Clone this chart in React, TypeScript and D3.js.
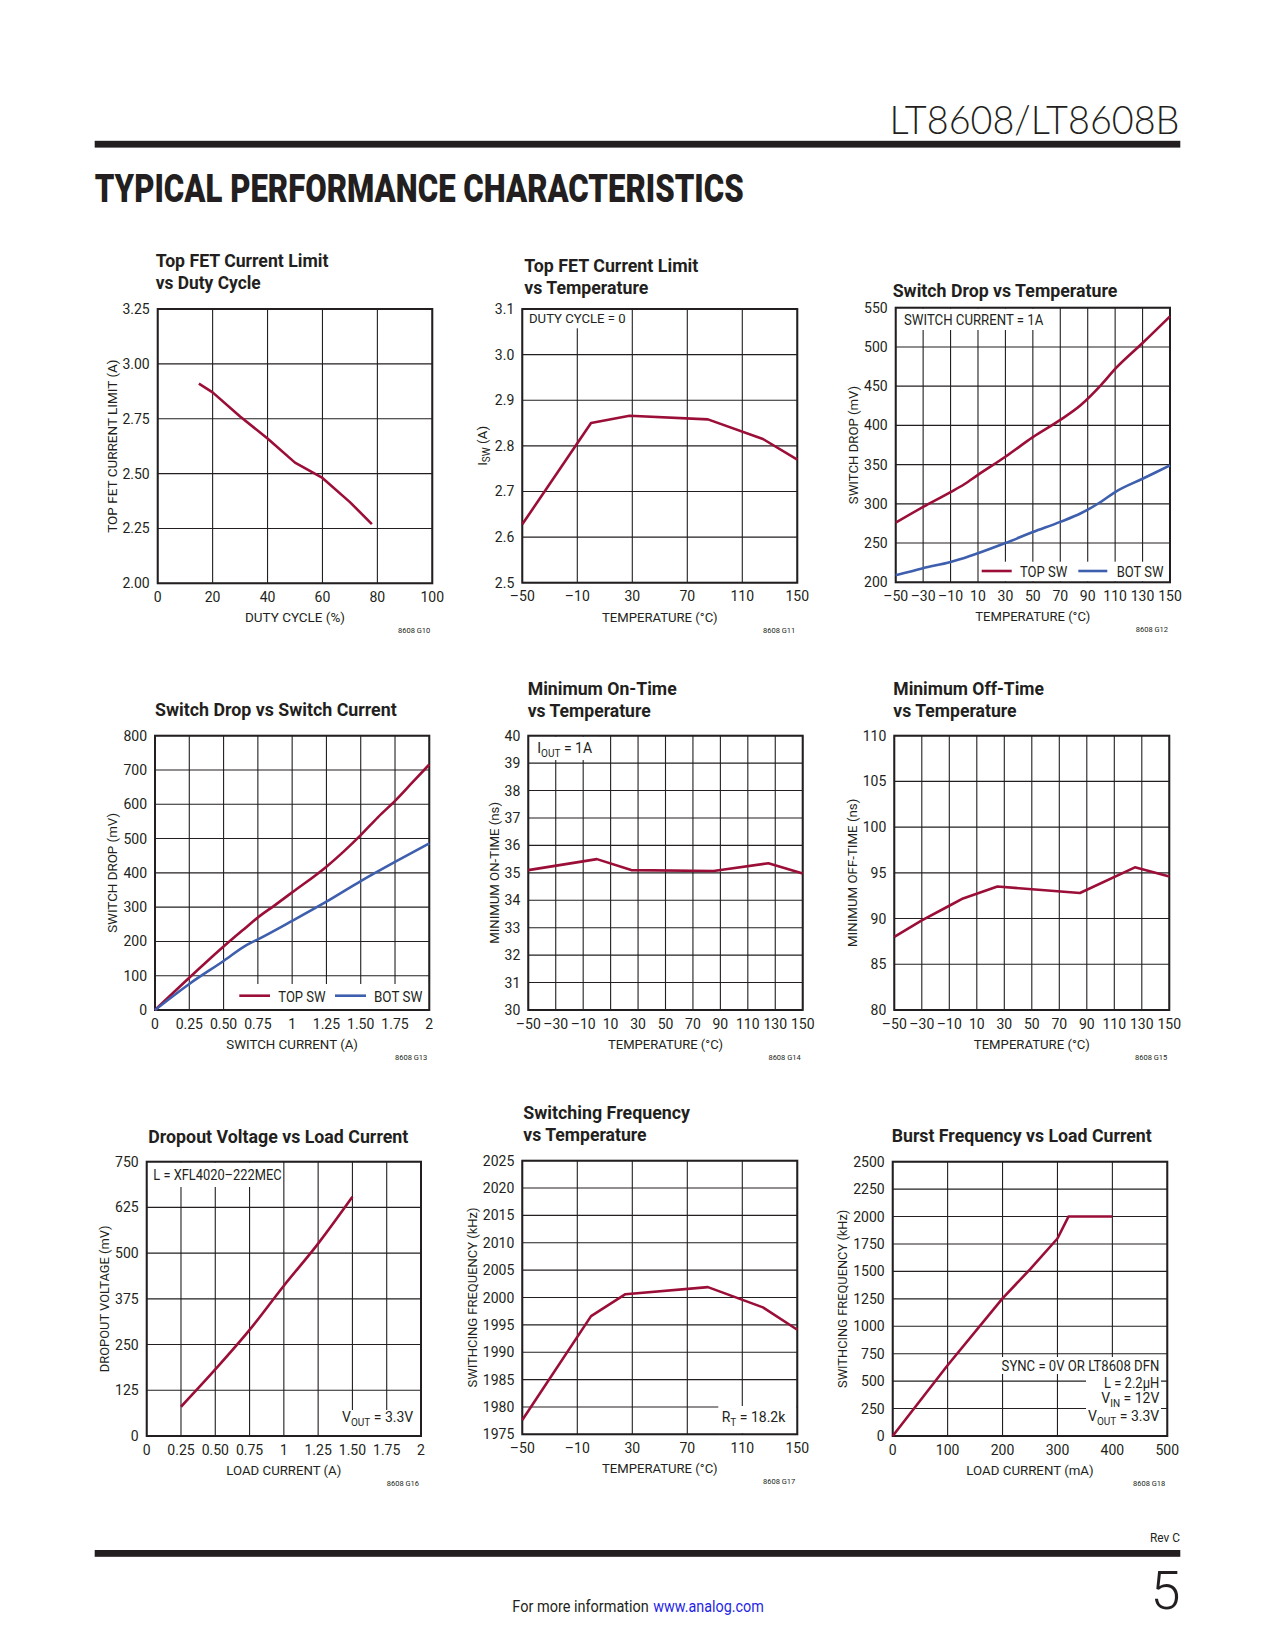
import React from "react";
import * as d3 from "d3";

const INK = "#231f20";
const RED = "#9b0e38";
const BLUE = "#3e5fae";
const FONT = "Roboto, 'Liberation Sans', Arial, sans-serif";

// ---------- DATA ----------
// G10 Top FET current limit vs duty cycle
const dutyCycle = [15, 20, 30, 40, 50, 60, 70, 78];
const topFetLimitDuty = [2.91, 2.87, 2.76, 2.66, 2.55, 2.48, 2.37, 2.27];

// G11 Top FET current limit vs temperature
const tempG11 = [-50, 0, 28, 85, 125, 150];
const iswG11 = [2.628, 2.85, 2.866, 2.858, 2.815, 2.77];

// G12 Switch drop vs temperature
const tempG12 = [-50, -30, -10, 0, 10, 30, 50, 70, 85, 100, 110, 130, 150];
const topSwDropT = [276, 296, 315, 325, 337, 360, 385, 407, 426, 452, 472, 505, 539];
const botSwDropT = [209, 218, 226, 231, 237, 250, 264, 277, 288, 303, 315, 332, 349];

// G13 Switch drop vs switch current
const currentTopG13 = [0, 0.25, 0.5, 0.67, 0.75, 0.875, 1, 1.25, 1.375, 1.5, 1.625, 1.75, 1.875, 2];
const topSwDropI = [0, 94, 185, 243, 270, 306, 343, 418, 462, 510, 562, 610, 663, 716];
const currentBotG13 = [0, 0.25, 0.5, 0.67, 0.75, 1, 1.25, 1.5, 1.75, 2];
const botSwDropI = [0, 76, 143, 190, 206, 260, 316, 376, 432, 486];

// G14 Minimum on-time vs temperature
const tempG14 = [-50, 0, 25, 85, 125, 150];
const minOnTime = [35.1, 35.5, 35.1, 35.07, 35.35, 34.98];

// G15 Minimum off-time vs temperature
const tempG15 = [-50, -30, -10, 0, 25, 85, 125, 150];
const minOffTime = [88, 89.8, 91.4, 92.2, 93.5, 92.8, 95.6, 94.6];

// G16 Dropout voltage vs load current
const loadCurrentG16 = [0.25, 0.5, 0.75, 1, 1.25, 1.5];
const dropoutVoltage = [80, 182, 290, 411, 526, 654];

// G17 Switching frequency vs temperature
const tempG17 = [-50, 0, 25, 85, 125, 150];
const switchingFreq = [1977.6, 1996.6, 2000.6, 2001.9, 1998.2, 1994.1];

// G18 Burst frequency vs load current
const loadCurrentG18 = [0, 100, 200, 250, 300, 320, 400];
const burstFreq = [0, 645, 1255, 1519, 1800, 2000, 2000];

// ---------- TICKS ----------
const ticksDuty = [0, 20, 40, 60, 80, 100];
const ticksLimitDuty = [2, 2.25, 2.5, 2.75, 3, 3.25];
const ticksTempCoarse = [-50, -10, 30, 70, 110, 150];
const ticksTempFine = [-50, -30, -10, 10, 30, 50, 70, 90, 110, 130, 150];
const ticksIsw = [2.5, 2.6, 2.7, 2.8, 2.9, 3.0, 3.1];
const ticksDropT = [200, 250, 300, 350, 400, 450, 500, 550];
const ticksAmps = [0, 0.25, 0.5, 0.75, 1, 1.25, 1.5, 1.75, 2];
const labelsAmps = ["0", "0.25", "0.50", "0.75", "1", "1.25", "1.50", "1.75", "2"];
const ticksDropI = [0, 100, 200, 300, 400, 500, 600, 700, 800];
const ticksOnTime = [30, 31, 32, 33, 34, 35, 36, 37, 38, 39, 40];
const ticksOffTime = [80, 85, 90, 95, 100, 105, 110];
const ticksDropout = [0, 125, 250, 375, 500, 625, 750];
const ticksFreq = [1975, 1980, 1985, 1990, 1995, 2000, 2005, 2010, 2015, 2020, 2025];
const ticksLoadmA = [0, 100, 200, 300, 400, 500];
const ticksBurst = [0, 250, 500, 750, 1000, 1250, 1500, 1750, 2000, 2250, 2500];

const fmtTemp = (v: number) => (v < 0 ? "\u2013" + Math.abs(v) : String(v));

type Series = { xs: number[]; ys: number[]; color: string; smooth?: boolean };
type Mask = [number, number, number, number];

type ChartProps = {
  box: [number, number, number, number];
  xDomain: [number, number];
  yDomain: [number, number];
  xTicks: number[];
  xLabels: string[];
  yTicks: number[];
  yLabels: string[];
  series: Series[];
  titleLines: string[];
  titleX: number;
  titleY: number[];
  titleW: number[];
  xTitle: string;
  xTitleW: number;
  yTitle: React.ReactNode;
  yTitleX: number;
  yTitleW?: number;
  figId: string;
  masks?: Mask[];
  children?: React.ReactNode;
};

function Chart(p: ChartProps) {
  const [l, t, r, b] = p.box;
  const x = d3.scaleLinear().domain(p.xDomain).range([l, r]);
  const y = d3.scaleLinear().domain(p.yDomain).range([b, t]);
  const cy = (t + b) / 2;
  return (
    <g>
      {p.titleLines.map((s, i) => (
        <text
          key={"t" + i}
          x={p.titleX}
          y={p.titleY[i]}
          fontSize={18.5}
          fontWeight={700}
          fill={INK}
          textLength={p.titleW[i]}
          lengthAdjust="spacingAndGlyphs"
        >
          {s}
        </text>
      ))}
      {p.xTicks.map((v, i) => (
        <line key={"gx" + i} x1={x(v)} x2={x(v)} y1={t} y2={b} stroke={INK} strokeWidth={1.1} />
      ))}
      {p.yTicks.map((v, i) => (
        <line key={"gy" + i} x1={l} x2={r} y1={y(v)} y2={y(v)} stroke={INK} strokeWidth={1.1} />
      ))}
      {(p.masks || []).map((m, i) => (
        <rect key={"m" + i} x={m[0]} y={m[1]} width={m[2] - m[0]} height={m[3] - m[1]} fill="#fff" />
      ))}
      <rect x={l} y={t} width={r - l} height={b - t} fill="none" stroke={INK} strokeWidth={2} />
      {p.series.map((s, i) => {
        const pts = s.xs.map((v, k) => [v, s.ys[k]] as [number, number]);
        const line = d3
          .line<[number, number]>()
          .x((d) => x(d[0]))
          .y((d) => y(d[1]))
          .curve(s.smooth ? d3.curveMonotoneX : d3.curveLinear);
        return (
          <path
            key={"s" + i}
            d={line(pts) || ""}
            fill="none"
            stroke={s.color}
            strokeWidth={2.6}
            strokeLinejoin="round"
          />
        );
      })}
      {p.xTicks.map((v, i) => (
        <text key={"lx" + i} x={x(v)} y={b + 18.5} fontSize={14} textAnchor="middle" fill={INK}>
          {p.xLabels[i]}
        </text>
      ))}
      {p.yTicks.map((v, i) => (
        <text key={"ly" + i} x={l - 8} y={y(v) + 5} fontSize={14} textAnchor="end" fill={INK}>
          {p.yLabels[i]}
        </text>
      ))}
      <text
        x={(l + r) / 2}
        y={b + 39}
        fontSize={13.5}
        textAnchor="middle"
        fill={INK}
        textLength={p.xTitleW}
        lengthAdjust="spacingAndGlyphs"
      >
        {p.xTitle}
      </text>
      <text
        transform={`translate(${p.yTitleX},${cy}) rotate(-90)`}
        fontSize={13.5}
        textAnchor="middle"
        dy="0.36em"
        fill={INK}
        textLength={p.yTitleW}
        lengthAdjust={p.yTitleW ? "spacingAndGlyphs" : undefined}
      >
        {p.yTitle}
      </text>
      <text x={r - 2} y={b + 50} fontSize={7.5} textAnchor="end" fill={INK}>
        {p.figId}
      </text>
      {p.children}
    </g>
  );
}

const Sub = ({ children }: { children: React.ReactNode }) => (
  <tspan fontSize={10} dy={3.5}>
    {children}
  </tspan>
);

export default function App() {
  return (
    <svg
      width={1275}
      height={1650}
      viewBox="0 0 1275 1650"
      style={{ position: "absolute", left: 0, top: 0, background: "#fff" }}
      fontFamily={FONT}
    >
      <rect x={0} y={0} width={1275} height={1650} fill="#fff" />
      {/* Header */}
      <text
        x={889.5}
        y={134.3}
        fontSize={40}
        fontWeight={300}
        fill={INK}
        fontFamily="Lato, 'Open Sans', sans-serif"
        textLength={290}
        lengthAdjust="spacingAndGlyphs"
      >
        LT8608/LT8608B
      </text>
      <rect x={94.7} y={140.8} width={1085.6} height={6.8} fill={INK} />
      <text
        x={94.7}
        y={202}
        fontSize={38}
        fontWeight={900}
        fill={INK}
        textLength={649}
        lengthAdjust="spacingAndGlyphs"
      >
        TYPICAL PERFORMANCE CHARACTERISTICS
      </text>

      {/* G10 */}
      <Chart
        box={[157.7, 309, 432.3, 583.3]}
        xDomain={[0, 100]}
        yDomain={[2, 3.25]}
        xTicks={ticksDuty}
        xLabels={ticksDuty.map(String)}
        yTicks={ticksLimitDuty}
        yLabels={ticksLimitDuty.map((v) => v.toFixed(2))}
        series={[{ xs: dutyCycle, ys: topFetLimitDuty, color: RED }]}
        titleLines={["Top FET Current Limit", "vs Duty Cycle"]}
        titleX={155.7}
        titleY={[266.7, 288.5]}
        titleW={[172.7, 105]}
        xTitle="DUTY CYCLE (%)"
        xTitleW={100}
        yTitle="TOP FET CURRENT LIMIT (A)"
        yTitleX={112.3}
        yTitleW={173.3}
        figId="8608 G10"
      />

      {/* G11 */}
      <Chart
        box={[522.3, 309, 797.3, 582.7]}
        xDomain={[-50, 150]}
        yDomain={[2.5, 3.1]}
        xTicks={ticksTempCoarse}
        xLabels={ticksTempCoarse.map(fmtTemp)}
        yTicks={ticksIsw}
        yLabels={ticksIsw.map((v) => v.toFixed(1))}
        series={[{ xs: tempG11, ys: iswG11, color: RED }]}
        titleLines={["Top FET Current Limit", "vs Temperature"]}
        titleX={524.3}
        titleY={[271.7, 293.5]}
        titleW={[174, 124]}
        xTitle={"TEMPERATURE (\u00B0C)"}
        xTitleW={115.7}
        yTitle={
          <>
            I<Sub>SW</Sub>
            <tspan dy={-3.5}> (A)</tspan>
          </>
        }
        yTitleX={481.7}
        figId="8608 G11"
        masks={[[523.3, 310, 628, 328.3]]}
      >
        <text x={529} y={323.3} fontSize={13.5} fill={INK} textLength={96.7} lengthAdjust="spacingAndGlyphs">
          DUTY CYCLE = 0
        </text>
      </Chart>

      {/* G12 */}
      <Chart
        box={[895.7, 307.7, 1170, 582.3]}
        xDomain={[-50, 150]}
        yDomain={[200, 550]}
        xTicks={ticksTempFine}
        xLabels={ticksTempFine.map(fmtTemp)}
        yTicks={ticksDropT}
        yLabels={ticksDropT.map(String)}
        series={[
          { xs: tempG12, ys: topSwDropT, color: RED, smooth: true },
          { xs: tempG12, ys: botSwDropT, color: BLUE, smooth: true },
        ]}
        titleLines={["Switch Drop vs Temperature"]}
        titleX={892.7}
        titleY={[296.7]}
        titleW={[224.7]}
        xTitle={"TEMPERATURE (\u00B0C)"}
        xTitleW={115}
        yTitle="SWITCH DROP (mV)"
        yTitleX={853.3}
        yTitleW={118.3}
        figId="8608 G12"
        masks={[
          [896.7, 308.7, 1050, 330],
          [979, 561.7, 1169, 581.3],
        ]}
      >
        <text x={904} y={325} fontSize={14} fill={INK} textLength={139.3} lengthAdjust="spacingAndGlyphs">
          SWITCH CURRENT = 1A
        </text>
        <line x1={981.7} x2={1011.7} y1={571} y2={571} stroke={RED} strokeWidth={2.6} />
        <text x={1020} y={577} fontSize={14} fill={INK} textLength={47.3} lengthAdjust="spacingAndGlyphs">
          TOP SW
        </text>
        <line x1={1078.3} x2={1107.3} y1={571} y2={571} stroke={BLUE} strokeWidth={2.6} />
        <text x={1116.7} y={577} fontSize={14} fill={INK} textLength={46.7} lengthAdjust="spacingAndGlyphs">
          BOT SW
        </text>
      </Chart>

      {/* G13 */}
      <Chart
        box={[155, 735.7, 429.3, 1010]}
        xDomain={[0, 2]}
        yDomain={[0, 800]}
        xTicks={ticksAmps}
        xLabels={labelsAmps}
        yTicks={ticksDropI}
        yLabels={ticksDropI.map(String)}
        series={[
          { xs: currentTopG13, ys: topSwDropI, color: RED, smooth: true },
          { xs: currentBotG13, ys: botSwDropI, color: BLUE, smooth: true },
        ]}
        titleLines={["Switch Drop vs Switch Current"]}
        titleX={155}
        titleY={[716]}
        titleW={[241.7]}
        xTitle="SWITCH CURRENT (A)"
        xTitleW={131.7}
        yTitle="SWITCH DROP (mV)"
        yTitleX={112.5}
        yTitleW={120}
        figId="8608 G13"
        masks={[[233, 984, 428.3, 1009]]}
      >
        <line x1={239.3} x2={270} y1={995.7} y2={995.7} stroke={RED} strokeWidth={2.6} />
        <text x={278.3} y={1002} fontSize={14} fill={INK} textLength={47.3} lengthAdjust="spacingAndGlyphs">
          TOP SW
        </text>
        <line x1={335} x2={366} y1={995.7} y2={995.7} stroke={BLUE} strokeWidth={2.6} />
        <text x={374} y={1002} fontSize={14} fill={INK} textLength={48.3} lengthAdjust="spacingAndGlyphs">
          BOT SW
        </text>
      </Chart>

      {/* G14 */}
      <Chart
        box={[528.3, 735.7, 802.7, 1010]}
        xDomain={[-50, 150]}
        yDomain={[30, 40]}
        xTicks={ticksTempFine}
        xLabels={ticksTempFine.map(fmtTemp)}
        yTicks={ticksOnTime}
        yLabels={ticksOnTime.map(String)}
        series={[{ xs: tempG14, ys: minOnTime, color: RED }]}
        titleLines={["Minimum On-Time", "vs Temperature"]}
        titleX={527.7}
        titleY={[695, 717.3]}
        titleW={[149, 123]}
        xTitle={"TEMPERATURE (\u00B0C)"}
        xTitleW={115}
        yTitle="MINIMUM ON-TIME (ns)"
        yTitleX={494}
        yTitleW={141.7}
        figId="8608 G14"
        masks={[[529.3, 736.7, 598, 760]]}
      >
        <text x={537.3} y={753.3} fontSize={14} fill={INK}>
          I<Sub>OUT</Sub>
          <tspan dy={-3.5}> = 1A</tspan>
        </text>
      </Chart>

      {/* G15 */}
      <Chart
        box={[894.3, 735.7, 1169.3, 1010]}
        xDomain={[-50, 150]}
        yDomain={[80, 110]}
        xTicks={ticksTempFine}
        xLabels={ticksTempFine.map(fmtTemp)}
        yTicks={ticksOffTime}
        yLabels={ticksOffTime.map(String)}
        series={[{ xs: tempG15, ys: minOffTime, color: RED }]}
        titleLines={["Minimum Off-Time", "vs Temperature"]}
        titleX={893.3}
        titleY={[695, 717.3]}
        titleW={[150.7, 123.3]}
        xTitle={"TEMPERATURE (\u00B0C)"}
        xTitleW={116}
        yTitle="MINIMUM OFF-TIME (ns)"
        yTitleX={852.5}
        yTitleW={148.3}
        figId="8608 G15"
      />

      {/* G16 */}
      <Chart
        box={[146.7, 1161.7, 421, 1436]}
        xDomain={[0, 2]}
        yDomain={[0, 750]}
        xTicks={ticksAmps}
        xLabels={labelsAmps}
        yTicks={ticksDropout}
        yLabels={ticksDropout.map(String)}
        series={[{ xs: loadCurrentG16, ys: dropoutVoltage, color: RED, smooth: true }]}
        titleLines={["Dropout Voltage vs Load Current"]}
        titleX={148.3}
        titleY={[1142.7]}
        titleW={[260]}
        xTitle="LOAD CURRENT (A)"
        xTitleW={115}
        yTitle="DROPOUT VOLTAGE (mV)"
        yTitleX={104}
        yTitleW={146.7}
        figId="8608 G16"
        masks={[
          [147.7, 1162.7, 283, 1187],
          [340, 1410, 420, 1435],
        ]}
      >
        <text x={153.3} y={1180} fontSize={14} fill={INK} textLength={128.3} lengthAdjust="spacingAndGlyphs">
          {"L = XFL4020\u2013222MEC"}
        </text>
        <text x={413.3} y={1422} fontSize={14} fill={INK} textAnchor="end">
          V<Sub>OUT</Sub>
          <tspan dy={-3.5}> = 3.3V</tspan>
        </text>
      </Chart>

      {/* G17 */}
      <Chart
        box={[522.3, 1160.7, 797.3, 1434.3]}
        xDomain={[-50, 150]}
        yDomain={[1975, 2025]}
        xTicks={ticksTempCoarse}
        xLabels={ticksTempCoarse.map(fmtTemp)}
        yTicks={ticksFreq}
        yLabels={ticksFreq.map(String)}
        series={[{ xs: tempG17, ys: switchingFreq, color: RED }]}
        titleLines={["Switching Frequency", "vs Temperature"]}
        titleX={523.3}
        titleY={[1119.3, 1140.7]}
        titleW={[166.7, 123.3]}
        xTitle={"TEMPERATURE (\u00B0C)"}
        xTitleW={115.7}
        yTitle="SWITHCING FREQUENCY (kHz)"
        yTitleX={472.5}
        yTitleW={180}
        figId="8608 G17"
        masks={[[718.3, 1406, 796.3, 1433.3]]}
      >
        <text x={721.7} y={1422} fontSize={14} fill={INK}>
          R<Sub>T</Sub>
          <tspan dy={-3.5}> = 18.2k</tspan>
        </text>
      </Chart>

      {/* G18 */}
      <Chart
        box={[892.7, 1161.7, 1167.3, 1436]}
        xDomain={[0, 500]}
        yDomain={[0, 2500]}
        xTicks={ticksLoadmA}
        xLabels={ticksLoadmA.map(String)}
        yTicks={ticksBurst}
        yLabels={ticksBurst.map(String)}
        series={[{ xs: loadCurrentG18, ys: burstFreq, color: RED }]}
        titleLines={["Burst Frequency vs Load Current"]}
        titleX={891.7}
        titleY={[1142]}
        titleW={[260]}
        xTitle="LOAD CURRENT (mA)"
        xTitleW={127.3}
        yTitle="SWITHCING FREQUENCY (kHz)"
        yTitleX={842.5}
        yTitleW={178.3}
        figId="8608 G18"
        masks={[
          [999, 1357, 1161, 1374],
          [1086, 1374, 1161, 1435],
        ]}
      >
        <text x={1159.3} y={1370.7} fontSize={14} fill={INK} textAnchor="end" textLength={157.7} lengthAdjust="spacingAndGlyphs">
          SYNC = 0V OR LT8608 DFN
        </text>
        <text x={1159.3} y={1387.7} fontSize={14} fill={INK} textAnchor="end" textLength={55.3} lengthAdjust="spacingAndGlyphs">
          {"L = 2.2\u00B5H"}
        </text>
        <text x={1159.3} y={1403} fontSize={14} fill={INK} textAnchor="end">
          V<Sub>IN</Sub>
          <tspan dy={-3.5}> = 12V</tspan>
        </text>
        <text x={1159.3} y={1421.3} fontSize={14} fill={INK} textAnchor="end">
          V<Sub>OUT</Sub>
          <tspan dy={-3.5}> = 3.3V</tspan>
        </text>
      </Chart>

      {/* Footer */}
      <text x={1180} y={1542} fontSize={12} fill={INK} textAnchor="end" textLength={30} lengthAdjust="spacingAndGlyphs">
        Rev C
      </text>
      <rect x={94.7} y={1550} width={1085.6} height={6.8} fill={INK} />
      <text x={1180.5} y={1608.5} fontSize={54} fontWeight={300} fill={INK} textAnchor="end">
        5
      </text>
      <text x={512.3} y={1611.7} fontSize={16} fill={INK} textLength={136.5} lengthAdjust="spacingAndGlyphs">
        For more information
      </text>
      <text x={653.3} y={1611.7} fontSize={16} fill="#1f1fe6" textLength={110.5} lengthAdjust="spacingAndGlyphs">
        www.analog.com
      </text>
    </svg>
  );
}
